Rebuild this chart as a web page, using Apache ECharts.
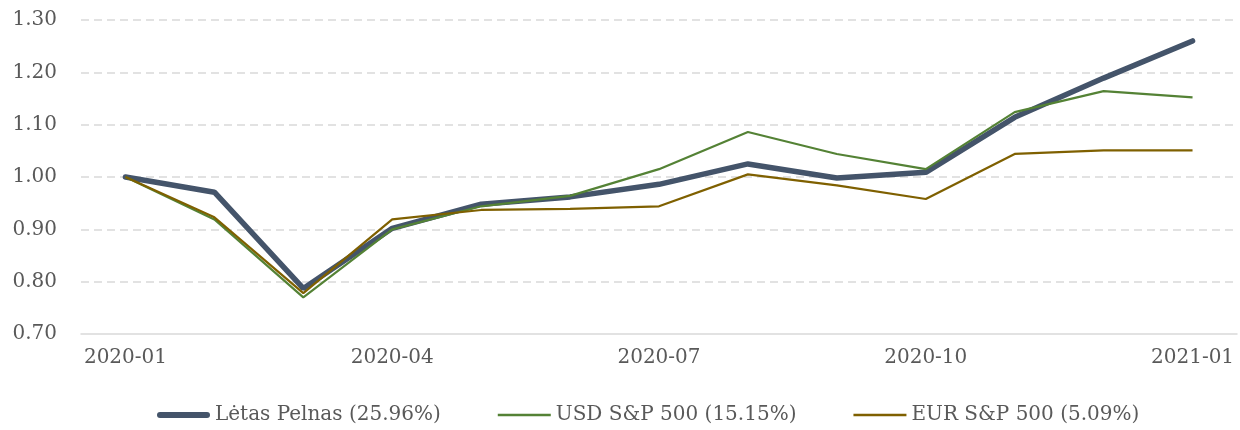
<!DOCTYPE html>
<html>
<head>
<meta charset="utf-8">
<script src="https://cdn.jsdelivr.net/npm/echarts@6/dist/echarts.min.js"></script>
<style>
  html, body { margin: 0; padding: 0; background: #fff; }
  #chart { width: 1240px; height: 430px; }
</style>
</head>
<body>
<div id="chart"></div>
<script>
// monthly index values, Jan 2020 = 1.00
const months = ['2020-01','2020-02','2020-03','2020-04','2020-05','2020-06','2020-07',
                '2020-08','2020-09','2020-10','2020-11','2020-12','2021-01'];
const letasPelnas = [1.000, 0.971, 0.787, 0.902, 0.948, 0.962, 0.986, 1.025, 0.998, 1.009, 1.114, 1.189, 1.260];
const usdSP500   = [1.000, 0.919, 0.770, 0.900, 0.944, 0.964, 1.015, 1.086, 1.044, 1.015, 1.124, 1.164, 1.152];
const eurSP500   = [1.000, 0.923, 0.778, 0.919, 0.937, 0.939, 0.944, 1.005, 0.984, 0.958, 1.044, 1.051, 1.051];
const seriesNames = ['Lėtas Pelnas (25.96%)', 'USD S&P 500 (15.15%)', 'EUR S&P 500 (5.09%)'];
const yTicks = [0.7, 1.3, 0.1]; // min, max, step

const font = 'DejaVu Serif';
const textColor = '#595959';
const every3 = (i) => i % 3 === 0;

// legend swatches: plain line segments, thick one with round ends
const thickIcon = 'path://M3,0 L50,0 A3,3 0 0 1 50,6 L3,6 A3,3 0 0 1 3,0 Z';
const thinIcon = 'path://M0,0 L53,0 L53,2.4 L0,2.4 Z';

const chart = echarts.init(document.getElementById('chart'));
chart.setOption({
  animation: false,
  textStyle: { fontFamily: font },
  grid: { left: 81, right: 3, top: 20, bottom: 96 },
  legend: {
    top: 400,
    left: 152,
    itemWidth: 53,
    itemHeight: 14,
    itemGap: 57,
    textStyle: { fontFamily: font, fontSize: 20, color: textColor },
    data: [
      { name: seriesNames[0], icon: thickIcon },
      { name: seriesNames[1], icon: thinIcon },
      { name: seriesNames[2], icon: thinIcon }
    ]
  },
  xAxis: {
    type: 'category',
    data: months,
    boundaryGap: true,
    axisLine: { lineStyle: { color: '#D9D9D9', width: 1.5 } },
    axisTick: { interval: every3, length: 5, lineStyle: { color: '#D9D9D9' } },
    axisLabel: { interval: every3, margin: 14, fontFamily: font, fontSize: 20, color: textColor }
  },
  yAxis: {
    type: 'value',
    min: yTicks[0],
    max: yTicks[1],
    interval: yTicks[2],
    axisLine: { show: false },
    axisTick: { show: false },
    axisLabel: {
      margin: 24, fontFamily: font, fontSize: 20, color: textColor,
      formatter: (v) => v.toFixed(2)
    },
    splitLine: { showMinLine: false, lineStyle: { color: '#D9D9D9', width: 1.5, type: [8, 5] } }
  },
  series: [
    {
      name: seriesNames[0], type: 'line', data: letasPelnas,
      symbol: 'none', lineStyle: { color: '#44546A', width: 5.5, cap: 'round' },
      itemStyle: { color: '#44546A' }
    },
    {
      name: seriesNames[1], type: 'line', data: usdSP500,
      symbol: 'none', lineStyle: { color: '#548235', width: 2.2 },
      itemStyle: { color: '#548235' }
    },
    {
      name: seriesNames[2], type: 'line', data: eurSP500,
      symbol: 'none', lineStyle: { color: '#7F6000', width: 2.2 },
      itemStyle: { color: '#7F6000' }
    }
  ]
});
</script>
</body>
</html>
